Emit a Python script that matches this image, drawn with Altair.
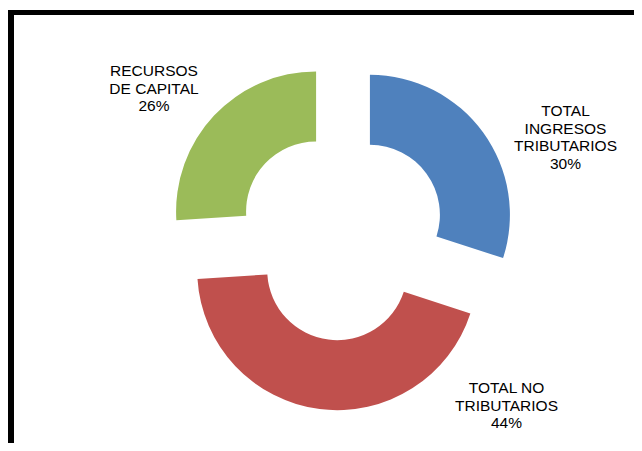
import altair as alt
import pandas as pd

# Data
categories = ["TOTAL|INGRESOS|TRIBUTARIOS", "TOTAL NO|TRIBUTARIOS", "RECURSOS|DE CAPITAL"]
keys = ["trib", "notrib", "capital"]
values = [30, 44, 26]
colors = ["#4F81BD", "#C0504D", "#9BBB59"]

df = pd.DataFrame({"key": keys, "name": categories, "value": values, "color": colors})

W, H = 626, 435
CX, CY = 333.6, 227.4   # donut centre (px)
EXPLODE = 35            # explosion distance (px)
R_OUT, R_IN = 140, 70

base = alt.Chart(df).transform_joinaggregate(
    total="sum(value)"
).transform_window(
    cum="sum(value)", frame=[None, 0]
).transform_calculate(
    t0="(datum.cum - datum.value) / datum.total * 2 * PI",
    t1="datum.cum / datum.total * 2 * PI",
).transform_calculate(
    tm="(datum.t0 + datum.t1) / 2",
).transform_calculate(
    px=f"{CX} + {EXPLODE} * sin(datum.tm)",
    py=f"{CY} - {EXPLODE} * cos(datum.tm)",
    label="split(datum.name + '|' + format(datum.value / datum.total, '.0%'), '|')",
)

arcs = base.mark_arc(outerRadius=R_OUT, innerRadius=R_IN, stroke=None).encode(
    x=alt.X("px:Q", scale=None),
    y=alt.Y("py:Q", scale=None),
    theta=alt.Theta("t0:Q", scale=None),
    theta2="t1:Q",
    color=alt.Color("color:N", scale=None),
)

label_pos = {"trib": (557.5, 108), "notrib": (498.5, 385), "capital": (146, 68)}
labels = []
for k, (lx, ly) in label_pos.items():
    labels.append(
        base.transform_filter(alt.datum.key == k).mark_text(
            font="Liberation Sans", fontSize=15.5, lineHeight=17.5,
            align="center", baseline="alphabetic", color="#000000",
        ).encode(x=alt.value(lx), y=alt.value(ly), text="label:N")
    )

frame_v = alt.Chart(df).mark_rule(color="#000000", strokeWidth=6).encode(
    x=alt.value(3), y=alt.value(2), y2=alt.value(H)
)
frame_h = alt.Chart(df).mark_rule(color="#000000", strokeWidth=5).encode(
    y=alt.value(4.5), x=alt.value(0), x2=alt.value(W)
)

chart = alt.layer(arcs, *labels, frame_v, frame_h).properties(
    width=W, height=H, padding=0, autosize=alt.AutoSizeParams(type="none")
).configure_view(stroke=None)

chart.save("out.html", embed_options={"renderer": "svg", "actions": False})
